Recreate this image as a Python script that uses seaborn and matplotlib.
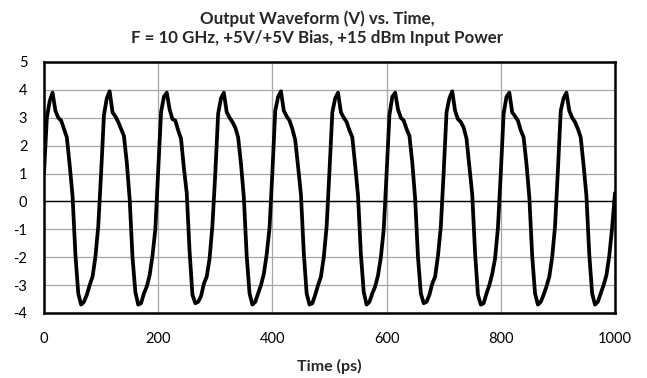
import numpy as np
import pandas as pd
import matplotlib
matplotlib.use("Agg")
import matplotlib.pyplot as plt
import seaborn as sns

sns.set_style("white")
plt.rcParams["font.family"] = ["Lato", "DejaVu Sans"]
plt.rcParams["axes.unicode_minus"] = False

# Sample times (ps), every 5 ps across the capture window
time_ps = np.arange(0, 1001, 5)

# Output voltage, one row per 100 ps cycle (peak first)
lead_in = [1.0, 3.0, 3.6]
cycle_0 = [3.9, 3.25, 3.0, 2.9, 2.6, 2.3, 1.3, 0.2, -1.9, -3.3, -3.7, -3.6, -3.35, -3.0, -2.7, -2.0, -0.9, 1.0, 3.1, 3.7]
cycle_1 = [3.95, 3.2, 3.05, 2.85, 2.6, 2.35, 1.4, 0.1, -2.0, -3.25, -3.7, -3.65, -3.3, -3.05, -2.65, -1.95, -1.0, 1.1, 3.2, 3.75]
cycle_2 = [3.9, 3.3, 2.95, 2.9, 2.55, 2.25, 1.2, 0.3, -1.8, -3.35, -3.65, -3.6, -3.4, -2.95, -2.7, -2.05, -0.85, 1.0, 3.15, 3.7]
cycle_3 = [3.9, 3.2, 3.0, 2.85, 2.65, 2.3, 1.35, 0.15, -1.95, -3.3, -3.7, -3.6, -3.3, -3.0, -2.6, -1.9, -0.95, 1.05, 3.25, 3.75]
cycle_4 = [3.95, 3.25, 3.05, 2.9, 2.6, 2.2, 1.25, 0.25, -1.85, -3.3, -3.7, -3.65, -3.35, -3.0, -2.7, -2.0, -0.9, 1.1, 3.2, 3.7]
cycle_5 = [3.9, 3.2, 3.0, 2.85, 2.55, 2.3, 1.3, 0.2, -1.9, -3.25, -3.7, -3.6, -3.3, -3.05, -2.65, -2.0, -1.0, 1.0, 3.1, 3.75]
cycle_6 = [3.9, 3.3, 3.0, 2.9, 2.6, 2.35, 1.4, 0.1, -2.0, -3.3, -3.65, -3.6, -3.35, -2.95, -2.7, -1.95, -0.9, 1.05, 3.2, 3.7]
cycle_7 = [3.95, 3.25, 2.95, 2.85, 2.65, 2.25, 1.25, 0.25, -1.85, -3.35, -3.7, -3.65, -3.3, -3.0, -2.6, -2.05, -0.95, 1.0, 3.15, 3.75]
cycle_8 = [3.9, 3.2, 3.05, 2.9, 2.55, 2.3, 1.35, 0.15, -1.95, -3.3, -3.7, -3.6, -3.35, -3.05, -2.7, -2.0, -0.9, 1.1, 3.25, 3.7]
cycle_9 = [3.9, 3.25, 3.0, 2.85, 2.6, 2.3, 1.3, 0.2, -1.9, -3.3, -3.7, -3.6, -3.3, -3.0, -2.65, -1.95, -0.95, 0.3]

volts = (lead_in + cycle_0 + cycle_1 + cycle_2 + cycle_3 + cycle_4
         + cycle_5 + cycle_6 + cycle_7 + cycle_8 + cycle_9)

x_ticks = [0, 200, 400, 600, 800, 1000]
y_ticks = [-4, -3, -2, -1, 0, 1, 2, 3, 4, 5]

df = pd.DataFrame({"Time (ps)": time_ps, "Volts": volts})

fig = plt.figure(figsize=(6.47, 3.78), dpi=100)
ax = fig.add_axes([0.068, 0.172, 0.8825, 0.664])

sns.lineplot(data=df, x="Time (ps)", y="Volts", ax=ax, color="black",
             linewidth=2.7, estimator=None, sort=False)

ax.set_xlim(0, 1000)
ax.set_ylim(-4, 5)
ax.set_xticks(x_ticks)
ax.set_yticks(y_ticks)
ax.grid(True, color="#a6a6a6", linewidth=0.9)
ax.set_axisbelow(True)
ax.axhline(0, color="black", linewidth=1.0, zorder=1)

for side in ax.spines.values():
    side.set_color("black")
    side.set_linewidth(1.8)

ax.tick_params(axis="both", length=0, labelsize=10.5, colors="black")
ax.tick_params(axis="x", pad=14)
ax.tick_params(axis="y", pad=12)
ax.set_xlabel("Time (ps)", fontsize=11.5, fontweight="bold", labelpad=9)
ax.set_ylabel("")
ax.set_title("Output Waveform (V) vs. Time,\nF = 10 GHz, +5V/+5V Bias, +15 dBm Input Power",
             fontsize=12.2, fontweight="bold", pad=14, linespacing=1.2, x=0.478)

fig.savefig("out.png", dpi=100)
